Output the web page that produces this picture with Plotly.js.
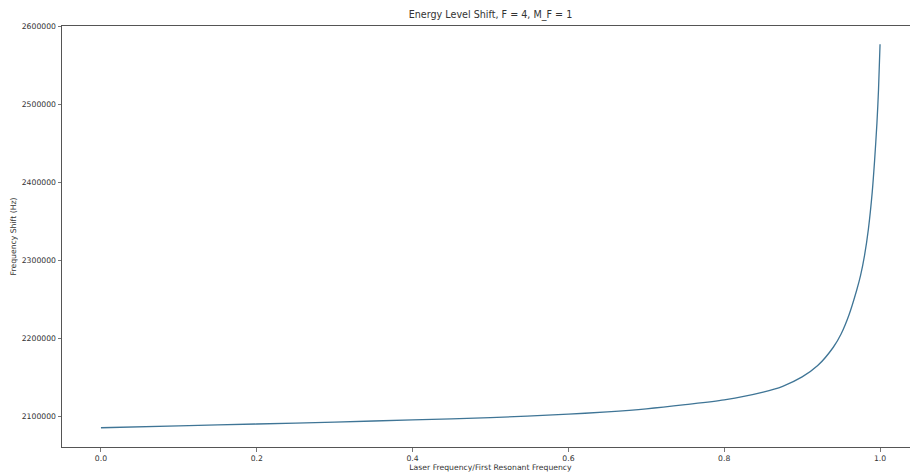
<!DOCTYPE html>
<html>
<head>
<meta charset="utf-8">
<script src="https://cdn.plot.ly/plotly-3.0.1.min.js"></script>
<style>
  html, body { margin: 0; padding: 0; overflow: hidden; background: #ffffff; }
  #chart { width: 950px; height: 472px; }
</style>
</head>
<body>
<div id="chart"></div>
<script>
// Laser frequency as a fraction of the first resonant frequency
const ratio = [
  0.0, 0.1, 0.2, 0.3, 0.4, 0.5, 0.6, 0.65, 0.7, 0.75, 0.8, 0.85, 0.875,
  0.9, 0.92, 0.94, 0.95, 0.96, 0.97, 0.975, 0.98, 0.985, 0.99, 0.993,
  0.996, 0.998, 1.0
];

// Energy level shift of the F = 4, M_F = 1 state (Hz)
const shiftHz = [
  2085900, 2088300, 2090700, 2093200, 2095900, 2098900, 2103300, 2106300,
  2110200, 2115500, 2121600, 2131500, 2139000, 2151000, 2165500, 2189000,
  2206000, 2230000, 2262000, 2281000, 2306000, 2340000, 2388000, 2428000,
  2476000, 2518000, 2577000
];

const xTickVals = [0.0, 0.2, 0.4, 0.6, 0.8, 1.0];
const xTickText = ["0.0", "0.2", "0.4", "0.6", "0.8", "1.0"];
const yTickVals = [2100000, 2200000, 2300000, 2400000, 2500000, 2600000];
const yTickText = ["2100000", "2200000", "2300000", "2400000", "2500000", "2600000"];

const font = { family: "DejaVu Sans, sans-serif", size: 7.7, color: "#333333" };

const trace = {
  x: ratio,
  y: shiftHz,
  type: "scatter",
  mode: "lines",
  line: { color: "#3f7596", width: 1.3, shape: "spline", smoothing: 0.8 },
  hoverinfo: "skip"
};

const axisCommon = {
  showgrid: false,
  zeroline: false,
  showline: true,
  linecolor: "#555555",
  linewidth: 1,
  ticks: "outside",
  ticklen: 3.5,
  tickwidth: 0.8,
  tickcolor: "#555555",
  tickfont: font
};

const layout = {
  width: 950,
  height: 472,
  margin: { l: 62, r: 31, t: 26, b: 25 },
  paper_bgcolor: "#ffffff",
  plot_bgcolor: "#ffffff",
  showlegend: false,
  font: font,
  title: {
    text: "Energy Level Shift, F = 4, M_F = 1",
    font: { family: "DejaVu Sans, sans-serif", size: 9.6, color: "#333333" },
    x: 0.5,
    xref: "paper",
    y: 0.970,
    yref: "container",
    yanchor: "middle"
  },
  // the top frame line comes from mirroring the x axis; the right side stays open
  xaxis: Object.assign({}, axisCommon, {
    mirror: true,
    range: [-0.05, 1.05],
    tickvals: xTickVals,
    ticktext: xTickText,
    title: { text: "Laser Frequency/First Resonant Frequency", font: font, standoff: 2 }
  }),
  yaxis: Object.assign({}, axisCommon, {
    mirror: false,
    range: [2061250, 2600400],
    tickvals: yTickVals,
    ticktext: yTickText,
    title: { text: "Frequency Shift (Hz)", font: font, standoff: 4 }
  })
};

Plotly.newPlot("chart", [trace], layout, { displayModeBar: false, staticPlot: true });
</script>
</body>
</html>
